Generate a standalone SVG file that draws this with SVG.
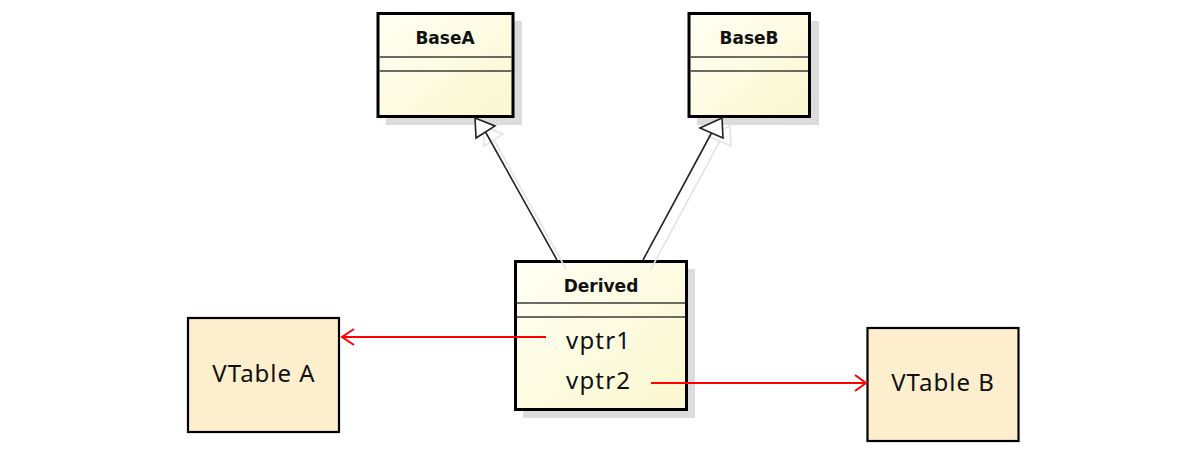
<svg xmlns="http://www.w3.org/2000/svg" width="1191" height="461" viewBox="0 0 1191 461">
<defs>
<style>
.cls{fill:url(#yel);stroke:#000;stroke-width:3}
.shadow{fill:#dcdcdc}
.sep{stroke:#3a3a3a;stroke-width:1.5;fill:none}
.title{font-family:"DejaVu Sans",Verdana,sans-serif;font-weight:bold;font-size:17px;fill:#111;text-anchor:middle}
.attr{font-family:"Noto Sans","Open Sans",sans-serif;font-size:24px;fill:#111;letter-spacing:1.2px}
.vt{fill:#fdefcd;stroke:#000;stroke-width:2.2}
.vtt{font-family:"Noto Sans","Open Sans",sans-serif;font-size:24px;fill:#111;text-anchor:middle;letter-spacing:1px}
.inh{stroke:#222;stroke-width:1.6;fill:none}
.inhs{stroke:#e4e4e4;stroke-width:1.6;fill:none}
.tri{fill:#fff;stroke:#222;stroke-width:1.6}
.tris{fill:none;stroke:#e4e4e4;stroke-width:1.6}
.red{stroke:#ff0000;stroke-width:2;fill:none}
</style>
<linearGradient id="yel" x1="0" y1="0" x2="1" y2="1">
<stop offset="0" stop-color="#fffff4"/>
<stop offset="1" stop-color="#fbf7cf"/>
</linearGradient>
</defs>

<g id="BaseA">
<rect class="shadow" x="386" y="21" width="136" height="104"/>
<rect class="cls" x="378" y="13.5" width="135" height="103"/>
<line class="sep" x1="379.5" y1="57" x2="511.5" y2="57"/>
<line class="sep" x1="379.5" y1="71" x2="511.5" y2="71"/>
<text class="title" x="445" y="44">BaseA</text>
</g>

<g id="BaseB">
<rect class="shadow" x="697" y="21" width="122" height="104"/>
<rect class="cls" x="689" y="13.5" width="120.5" height="103"/>
<line class="sep" x1="690.5" y1="57" x2="808" y2="57"/>
<line class="sep" x1="690.5" y1="71" x2="808" y2="71"/>
<text class="title" x="749" y="44">BaseB</text>
</g>

<g id="Derived">
<rect class="shadow" x="523" y="269" width="172" height="149"/>
<rect class="cls" x="515.5" y="261.5" width="171" height="148"/>
<line class="sep" x1="517" y1="303" x2="685" y2="303"/>
<line class="sep" x1="517" y1="317" x2="685" y2="317"/>
<text class="title" x="601" y="292">Derived</text>
<text class="attr" x="566" y="349">vptr1</text>
<text class="attr" x="566" y="389">vptr2</text>
</g>

<g id="VTableA">
<rect class="vt" x="188" y="318" width="151" height="114"/>
<text class="vtt" x="264" y="382">VTable A</text>
</g>

<g id="VTableB">
<rect class="vt" x="867.5" y="328" width="151" height="113"/>
<text class="vtt" x="943" y="391">VTable B</text>
</g>

<g id="connectors">
<line class="inhs" x1="566" y1="269" x2="494" y2="140"/>
<polygon class="tris" points="483,126 503,134 484,146"/>
<line class="inhs" x1="651" y1="269" x2="720" y2="141"/>
<polygon class="tris" points="730,126 708,136 731,146"/>
<line class="inh" x1="557" y1="260" x2="485.5" y2="132"/>
<polygon class="tri" points="475,118 495,126 476,138"/>
<line class="inh" x1="643" y1="260" x2="711.5" y2="133"/>
<polygon class="tri" points="722,118 700,128 723,138"/>
<line class="red" x1="546" y1="337" x2="342" y2="337"/>
<polyline class="red" points="354,329 342,337 354,345"/>
<line class="red" x1="651" y1="383" x2="866" y2="383"/>
<polyline class="red" points="855,375 866,383 855,391"/>
</g>
</svg>
